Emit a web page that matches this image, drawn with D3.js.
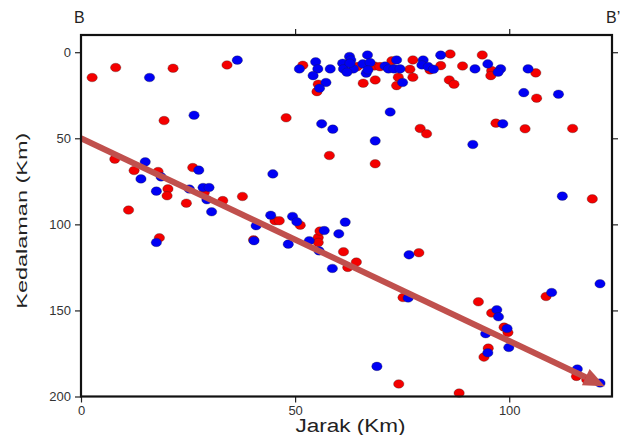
<!DOCTYPE html>
<html><head><meta charset="utf-8">
<script src="https://cdn.jsdelivr.net/npm/d3@7"></script>
<style>body{margin:0;background:#fff}svg{display:block;font-family:"Liberation Sans",Arial,sans-serif}</style>
</head><body><svg id="c" width="628" height="435"></svg>
<script>
// Data: [distance km, depth km]
const redPoints = [
 [2.6,14.7],[8.1,8.9],[21.5,9.3],[34.1,7.4],[19.4,39.7],
 [51.8,7.6],[55.4,18.6],[55.1,22.9],[64.5,8.4],[68.5,8.0],[69.8,8.4],[72.6,5.0],[65.9,18.0],[68.7,16.1],
 [74.1,14.5],[73.7,19.4],[77.5,4.5],[76.8,9.9],[77.5,14.5],[81.5,10.3],[84.0,7.8],[86.2,1.0],[89.1,8.0],
 [93.7,1.6],[95.9,10.7],[95.7,13.6],[86.0,16.1],[87.1,18.6],[106.2,12.0],[106.4,26.7],
 [47.9,38.1],[58.0,60.0],[68.7,64.8],[79.2,44.3],[80.7,47.4],[96.9,41.2],[103.7,44.5],[114.8,44.3],
 [7.9,62.1],[12.4,68.7],[18.0,69.3],[26.1,67.0],[20.3,79.4],[20.1,83.4],[28.8,81.5],[33.1,86.2],
 [24.6,87.7],[11.1,91.7],[37.7,83.8],[18.3,107.8],[45.3,97.9],[46.3,97.9],[51.2,100.5],[40.3,109.0],
 [55.4,107.6],[55.4,110.5],[55.8,103.9],[61.3,115.9],[64.3,121.9],[62.3,125.0],[78.9,116.5],[75.2,142.5],
 [74.2,192.7],[88.3,198.0],[119.4,85.2],[108.6,141.9],[92.8,145.0],[95.9,151.5],[98.8,159.7],[99.7,162.8],
 [95.1,171.9],[94.1,177.1],[115.7,188.3],[118.1,190.2]
];
const bluePoints = [
 [16.0,14.7],[36.5,4.6],[26.4,36.6],
 [51.0,9.7],[54.8,5.6],[55.3,9.7],[54.2,13.6],[58.2,9.7],[57.2,17.6],[55.7,20.9],[62.7,2.5],[63.0,4.5],
 [61.1,6.4],[61.3,9.7],[63.6,9.7],[62.1,11.6],[62.8,6.4],[66.9,1.6],[65.8,6.8],[67.5,6.0],[66.6,12.2],[67.0,10.3],
 [73.7,4.5],[71.0,8.0],[71.8,9.7],[73.1,9.7],[74.5,9.7],[75.1,17.6],[79.9,4.5],[79.6,7.4],[81.1,8.4],
 [82.3,9.9],[84.0,1.7],[92.0,9.7],[95.0,6.8],[98.0,9.7],[97.4,11.6],[104.4,9.7],[103.4,23.5],[111.5,24.4],
 [56.2,41.6],[58.8,44.7],[72.2,34.7],[68.7,51.5],[98.5,41.6],[91.5,53.6],
 [15.0,63.7],[14.0,73.6],[18.7,72.4],[27.5,68.5],[17.6,80.7],[25.3,79.5],[28.5,78.6],[29.9,78.6],
 [29.4,85.7],[30.5,92.7],[44.8,70.7],[17.6,110.5],[44.3,94.7],[40.9,100.8],[49.4,95.4],[50.4,98.5],
 [40.4,109.5],[48.4,111.5],[53.3,109.5],[56.8,103.6],[55.6,115.4],[61.7,98.7],[60.2,105.5],[58.7,125.6],
 [76.6,117.7],[76.4,142.8],[69.1,182.5],[112.4,83.6],[121.2,134.5],[109.9,139.6],[97.1,149.6],[97.5,153.7],
 [99.5,160.5],[94.5,163.5],[99.9,171.5],[95.0,174.6],[115.9,184.0],[121.2,192.2]
];
const xTicks = [0, 50, 100];
const yTicks = [0, 50, 100, 150, 200];
const arrowStart = [0, 50];
const arrowEnd = [122.3, 194];
const xLabel = "Jarak (Km)";
const yLabel = "Kedalaman (Km)";
const leftTitle = "B", rightTitle = "B’";

const svg = d3.select("#c");
const L = 81, R = 612, T = 35, B = 396.5;
const x = d3.scaleLinear().domain([0, 124]).range([L, R]);
const y = d3.scaleLinear().domain([-10, 200]).range([T, B]);

// points
const g = svg.append("g");
function drawPts(data, col) {
  g.selectAll(null).data(data).enter().append("ellipse")
    .attr("cx", d => x(d[0])).attr("cy", d => y(d[1]))
    .attr("rx", 5.2).attr("ry", 4.3)
    .attr("fill", col).attr("stroke", "#222").attr("stroke-width", 0.5).attr("stroke-opacity", 0.6);
}
drawPts(redPoints, "#f40000");
drawPts(bluePoints, "#0000f4");

// arrow
const ax0 = x(arrowStart[0]), ay0 = y(arrowStart[1]);
const ax1 = x(arrowEnd[0]), ay1 = y(arrowEnd[1]);
const ang = Math.atan2(ay1 - ay0, ax1 - ax0);
const headLen = 21, headW = 9;
const bx = ax1 - headLen * Math.cos(ang), by = ay1 - headLen * Math.sin(ang);
const arrowCol = "#c0504d";
svg.append("line").attr("x1", ax0).attr("y1", ay0).attr("x2", bx).attr("y2", by)
  .attr("stroke", arrowCol).attr("stroke-width", 6);
svg.append("path").attr("fill", arrowCol)
  .attr("d", `M${ax1},${ay1} L${bx + headW * Math.sin(ang)},${by - headW * Math.cos(ang)} L${bx - headW * Math.sin(ang)},${by + headW * Math.cos(ang)} Z`);

// axes
function styleAxis(sel, labels) {
  sel.select(".domain").remove();
  sel.selectAll(".tick line").attr("stroke", "#222").attr("stroke-width", 1.2);
  sel.selectAll(".tick text").attr("fill", "#333").style("font-size", "13px")
    .style("font-family", '"Liberation Sans",Arial,sans-serif');
  if (!labels) sel.selectAll(".tick text").remove();
}
svg.append("g").attr("transform", `translate(0,${B})`)
  .call(d3.axisBottom(x).tickValues(xTicks).tickSize(6).tickPadding(3))
  .call(s => styleAxis(s, true));
svg.append("g").attr("transform", `translate(0,${T})`)
  .call(d3.axisTop(x).tickValues(xTicks.filter(v => v > 0)).tickSize(6))
  .call(s => styleAxis(s, false));
svg.append("g").attr("transform", `translate(${L},0)`)
  .call(d3.axisLeft(y).tickValues(yTicks).tickSize(6).tickPadding(4))
  .call(s => styleAxis(s, true));
svg.append("g").attr("transform", `translate(${R},0)`)
  .call(d3.axisRight(y).tickValues(yTicks.filter(v => v < 200)).tickSize(6))
  .call(s => styleAxis(s, false));

// frame
svg.append("rect").attr("x", L).attr("y", T).attr("width", R - L).attr("height", B - T)
  .attr("fill", "none").attr("stroke", "#111").attr("stroke-width", 2.2);

// labels
svg.append("text").attr("x", (L + R) / 2 + 4).attr("y", 432).attr("text-anchor", "middle")
  .attr("textLength", 110).attr("lengthAdjust", "spacingAndGlyphs")
  .style("font-size", "18px").attr("fill", "#222").text(xLabel);
svg.append("text").attr("transform", `translate(27,${(T + B) / 2 + 5}) rotate(-90)`).attr("text-anchor", "middle")
  .attr("textLength", 176).attr("lengthAdjust", "spacingAndGlyphs")
  .style("font-size", "15.5px").attr("fill", "#222").text(yLabel);
svg.append("text").attr("x", 74).attr("y", 23).style("font-size", "16px").attr("fill", "#222").text(leftTitle);
svg.append("text").attr("x", 606).attr("y", 23).style("font-size", "16px").attr("fill", "#222").text(rightTitle);
</script></body></html>
